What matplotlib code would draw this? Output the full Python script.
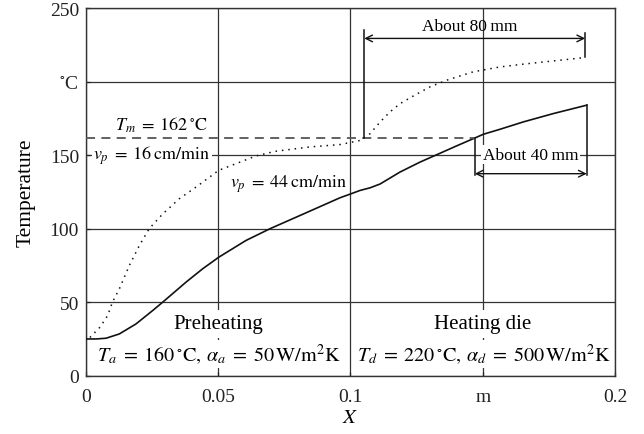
import numpy as np
import matplotlib
matplotlib.use('Agg')
import matplotlib.pyplot as plt

plt.rcParams['font.family'] = ['Liberation Serif', 'DejaVu Serif']
plt.rcParams['mathtext.fontset'] = 'stix'
plt.rcParams['font.size'] = 13

# v_p = 44 cm/min (solid)
x_44 = [0, 0.004, 0.0076, 0.0126, 0.0189, 0.0252, 0.029, 0.0378, 0.0441, 0.0502, 0.0605,
        0.0696, 0.0822, 0.096, 0.1, 0.1036, 0.1074, 0.1112, 0.1187, 0.1263, 0.1326, 0.1401,
        0.1464, 0.1502, 0.1565, 0.1653, 0.1767, 0.1893]
t_44 = [25, 25, 25.5, 28.4, 35.2, 44.3, 50, 63.6, 72.7, 80.6, 92,
        100, 110, 121, 123.6, 126, 127.8, 130.4, 138.5, 145.3, 150.3, 156.3,
        161.2, 164.2, 167.6, 172.6, 178.3, 184]

# v_p = 16 cm/min (dotted)
x_16 = [0.0015, 0.0053, 0.0082, 0.01, 0.0126, 0.0164, 0.0202, 0.0239, 0.029, 0.0353,
        0.0416, 0.0502, 0.0567, 0.0643, 0.0715, 0.0847, 0.096, 0.1036, 0.1074, 0.1112,
        0.1149, 0.1187, 0.1231, 0.1301, 0.1364, 0.1464, 0.1565, 0.1653, 0.1887]
t_16 = [26, 33, 40.9, 50, 59, 75, 88.6, 100, 110, 120.4,
        128.3, 139.7, 144.2, 149.5, 152.6, 155.6, 157.2, 160, 164.6, 172.6,
        179.4, 185, 189.6, 196.5, 201, 206.7, 210, 211.9, 216.4]

t_melt = 162
x_ticks = [0, 0.05, 0.1, 0.15, 0.2]
x_labels = ['0', '0.05', '0.1', 'm', '0.2']
y_ticks = [0, 50, 100, 150, 200, 250]
y_labels = ['0', '50', '100', '150', r'$^{\circ}$C', '250']

fig = plt.figure(figsize=(6.44, 4.35), dpi=100)
ax = fig.add_axes([0.1335, 0.134, 0.8215, 0.845])

ax.set_xlim(0, 0.2)
ax.set_ylim(0, 250)
ax.set_xticks(x_ticks)
ax.set_xticklabels(x_labels)
ax.set_yticks(y_ticks)
ax.set_yticklabels(y_labels)
ax.tick_params(direction='in', length=3, width=0.9, colors='#222', labelsize=14)
ax.tick_params(axis='x', pad=9)
ax.tick_params(axis='y', pad=5)
ax.grid(True, color='#333', lw=0.9)
ax.set_axisbelow(True)
for s in ax.spines.values():
    s.set_color('#333')
    s.set_linewidth(1.0)

ax.plot(x_44, t_44, '-', color='#111', lw=1.2, zorder=3)
ax.plot(x_16, t_16, color='#111', lw=1.1, linestyle=(0, (1, 3.2)), zorder=3)
ax.plot([0, 0.147], [t_melt, t_melt], color='#555', lw=1.3, linestyle=(0, (5, 3.5)), zorder=3)

# About 80 mm
ax.plot([0.1052, 0.1052], [t_melt, 234.8], color='#111', lw=1.1, zorder=3)
ax.plot([0.1887, 0.1887], [216.9, 233.4], color='#111', lw=1.1, zorder=3)
ax.annotate('', xy=(0.1052, 229.4), xytext=(0.1887, 229.4),
            arrowprops=dict(arrowstyle='<->', color='#111', lw=1.0, shrinkA=0, shrinkB=0,
                            mutation_scale=12), zorder=4)
ax.text(0.1452, 238, 'About 80\u2009mm', ha='center', va='center', fontsize=12.5, zorder=5)

# About 40 mm
ax.plot([0.147, 0.147], [t_melt, 136.2], color='#111', lw=1.1, zorder=3)
ax.plot([0.1893, 0.1893], [184, 136.2], color='#111', lw=1.1, zorder=3)
ax.annotate('', xy=(0.147, 137.4), xytext=(0.1893, 137.4),
            arrowprops=dict(arrowstyle='<->', color='#111', lw=1.0, shrinkA=0, shrinkB=0,
                            mutation_scale=12), zorder=4)
ax.text(0.168, 150.3, 'About 40\u2009mm', ha='center', va='center', fontsize=12.5, zorder=5,
        bbox=dict(facecolor='white', edgecolor='none', pad=1.0))

ax.text(0.0284, 170.8, r'$T_m\;=\;162\,^{\circ}\mathrm{C}$', ha='center', va='center', fontsize=13)
ax.text(0.0028, 150.3, r'$v_p\;=\;16\,\mathrm{cm/min}$', ha='left', va='center', fontsize=13,
        zorder=5, bbox=dict(facecolor='white', edgecolor='none', pad=1.0))
ax.text(0.0546, 130.6, r'$v_p\;=\;44\,\mathrm{cm/min}$', ha='left', va='center', fontsize=13)

ax.text(0.05, 35.2, 'Preheating', ha='center', va='center', fontsize=15, zorder=5,
        bbox=dict(facecolor='white', edgecolor='none', pad=3))
ax.text(0.0503, 14.8, r'$T_a\;=\;160\,^{\circ}\mathrm{C},\,\alpha_a\;=\;50\,\mathrm{W/m^2K}$',
        ha='center', va='center', fontsize=14.5, zorder=5,
        bbox=dict(facecolor='white', edgecolor='none', pad=1.0))
ax.text(0.15, 35.2, 'Heating die', ha='center', va='center', fontsize=15, zorder=5,
        bbox=dict(facecolor='white', edgecolor='none', pad=3))
ax.text(0.1505, 14.8, r'$T_d\;=\;220\,^{\circ}\mathrm{C},\,\alpha_d\;=\;500\,\mathrm{W/m^2K}$',
        ha='center', va='center', fontsize=14.5, zorder=5,
        bbox=dict(facecolor='white', edgecolor='none', pad=1.0))

ax.set_ylabel('Temperature', fontsize=15.5, labelpad=10)
ax.set_xlabel(r'$X$', fontsize=15, labelpad=2)

fig.savefig('out.png', dpi=100)
